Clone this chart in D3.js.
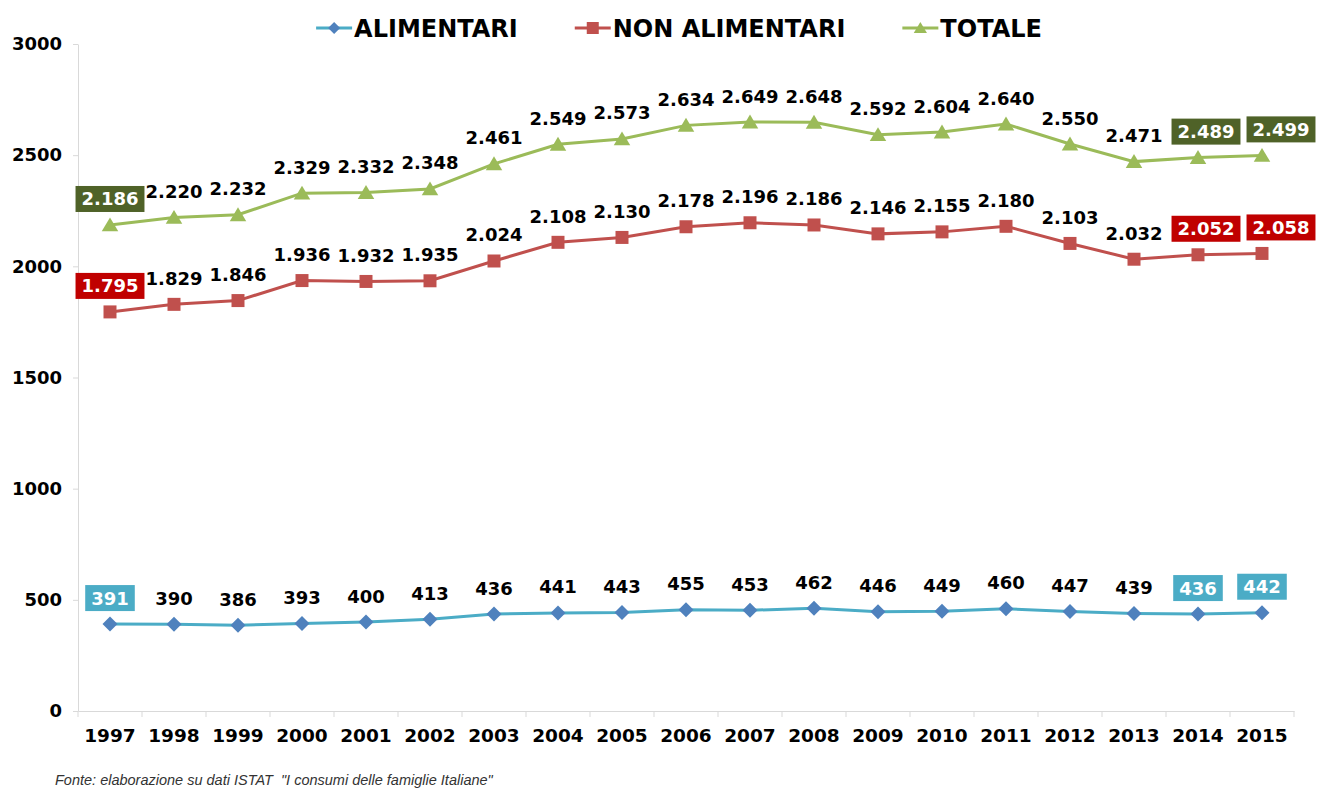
<!DOCTYPE html>
<html><head><meta charset="utf-8">
<script src="https://cdn.jsdelivr.net/npm/d3@7"></script>
<style>body{margin:0;background:#fff}svg{display:block}</style>
</head><body><svg id="c" width="1320" height="789"></svg>
<script>
const years = ["1997","1998","1999","2000","2001","2002","2003","2004","2005","2006","2007","2008","2009","2010","2011","2012","2013","2014","2015"];
const alimentari = [391,390,386,393,400,413,436,441,443,455,453,462,446,449,460,447,439,436,442];
const nonAlimentari = [1795,1829,1846,1936,1932,1935,2024,2108,2130,2178,2196,2186,2146,2155,2180,2103,2032,2052,2058];
const totale = [2186,2220,2232,2329,2332,2348,2461,2549,2573,2634,2649,2648,2592,2604,2640,2550,2471,2489,2499];
const yTicks = [0,500,1000,1500,2000,2500,3000];
const seriesNames = ["ALIMENTARI","NON ALIMENTARI","TOTALE"];
const boxedIdx = [0,17,18];
const footnote = 'Fonte: elaborazione su dati ISTAT  "I consumi delle famiglie Italiane"';

(function () {
const series = [
  {name: seriesNames[0], values: alimentari, line: "#4BACC6", marker: "#4F81BD", box: "#4BACC6", shape: "diamond"},
  {name: seriesNames[1], values: nonAlimentari, line: "#C0504D", marker: "#C0504D", box: "#C00000", shape: "square"},
  {name: seriesNames[2], values: totale, line: "#9BBB59", marker: "#9BBB59", box: "#4F6228", shape: "triangle"}
];

const itLoc = d3.formatLocale({decimal: ",", thousands: ".", grouping: [3], currency: ["€", ""]});
const fmt = itLoc.format(",d");
const FONT = "'DejaVu Sans', Verdana, sans-serif";

const svg = d3.select("#c");
const mLeft = 78, mRight = 1294, mTop = 44, mBottom = 711;
const x = d3.scaleBand().domain(years).range([mLeft, mRight]);
const cx = d => x(d) + x.bandwidth() / 2;
const y = d3.scaleLinear().domain([0, 3000]).range([mBottom, mTop]);

// Y axis
const ya = svg.append("g").attr("transform", `translate(${mLeft},0)`)
  .call(d3.axisLeft(y).tickValues(yTicks).tickFormat(d3.format("d")).tickSize(5).tickSizeOuter(0).tickPadding(11));
ya.select(".domain").attr("stroke", "#d9d9d9");
ya.selectAll(".tick line").attr("stroke", "#d9d9d9");
ya.selectAll(".tick text").attr("font-family", FONT).attr("font-weight", "bold").attr("font-size", 18).attr("fill", "#000");

// X axis
const xa = svg.append("g").attr("transform", `translate(0,${mBottom})`)
  .call(d3.axisBottom(x).tickSize(0).tickSizeOuter(0).tickPadding(18));
xa.select(".domain").attr("stroke", "#d9d9d9");
xa.selectAll(".tick text").attr("font-family", FONT).attr("font-weight", "bold").attr("font-size", 18.5).attr("fill", "#000");
const bounds = years.map(d => x(d)).concat([x(years[years.length - 1]) + x.bandwidth()]);
xa.selectAll(".bt").data(bounds).enter().append("line")
  .attr("x1", d => d).attr("x2", d => d).attr("y1", 0).attr("y2", 6)
  .attr("stroke", "#d9d9d9");

function markerPath(shape, s) {
  if (shape === "diamond") return `M0,${-s}L${s},0L0,${s}L${-s},0Z`;
  if (shape === "square") return `M${-s},${-s}H${s}V${s}H${-s}Z`;
  return `M0,${-s}L${s * 1.1},${s * 0.85}L${-s * 1.1},${s * 0.85}Z`;
}

const line = d3.line().x((d, i) => cx(years[i])).y(d => y(d));

series.forEach(s => {
  const g = svg.append("g");
  g.append("path").attr("d", line(s.values)).attr("fill", "none").attr("stroke", s.line).attr("stroke-width", 3);
  const size = s.shape === "diamond" ? 7.5 : (s.shape === "square" ? 6.5 : 7.5);
  g.selectAll(".m").data(s.values).enter().append("path")
    .attr("transform", (d, i) => `translate(${cx(years[i])},${y(d)})`)
    .attr("d", markerPath(s.shape, size)).attr("fill", s.marker);

  s.values.forEach((v, i) => {
    const boxed = boxedIdx.includes(i);
    let dx = 0;
    if (boxed && s.shape !== "diamond") dx = i === 18 ? 19 : (i === 17 ? 8 : 0);
    const lx = cx(years[i]) + dx;
    const ly = y(v) - 26;
    const lgp = g.append("g");
    const t = lgp.append("text").attr("x", lx).attr("y", ly).attr("dy", "0.36em")
      .attr("text-anchor", "middle").attr("font-family", FONT).attr("font-weight", "bold")
      .attr("font-size", 18).attr("fill", boxed ? "#fff" : "#000").text(fmt(v));
    if (boxed) {
      const w = t.node().getComputedTextLength() + 12;
      lgp.insert("rect", "text").attr("x", lx - w / 2).attr("y", ly - 13).attr("width", w).attr("height", 26).attr("fill", s.box);
    }
  });
});

// Legend
const lg = svg.append("g");
let xpos = 0;
series.forEach(s => {
  const item = lg.append("g").attr("transform", `translate(${xpos},0)`);
  item.append("line").attr("x1", 0).attr("x2", 36).attr("y1", 0).attr("y2", 0).attr("stroke", s.line).attr("stroke-width", 3);
  item.append("path").attr("transform", "translate(18,0)").attr("d", markerPath(s.shape, 6)).attr("fill", s.marker);
  const t = item.append("text").attr("x", 38).attr("y", 0).attr("dy", "0.36em")
    .attr("font-family", FONT).attr("font-weight", "bold").attr("font-size", 24).attr("fill", "#000").text(s.name);
  xpos += 38 + t.node().getComputedTextLength() + 57;
});
const totalW = xpos - 57;
lg.attr("transform", `translate(${679 - totalW / 2},28)`);

// Footnote
svg.append("text").attr("x", 55).attr("y", 785).attr("font-family", "'Liberation Sans', Arial, sans-serif")
  .attr("font-style", "italic").attr("font-size", 14.5).attr("fill", "#333")
  .style("white-space", "pre").text(footnote);
})();
</script>
</body></html>
